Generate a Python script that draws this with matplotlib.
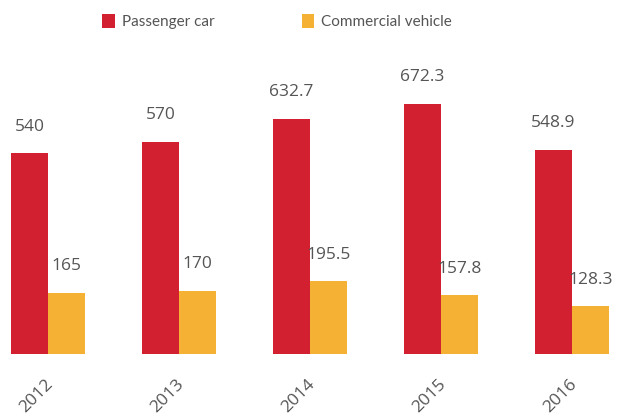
"""
Passenger car vs commercial vehicle, 2012-2016
"""
import numpy as np
import matplotlib
matplotlib.use('Agg')
import matplotlib.pyplot as plt

plt.rcParams['font.family'] = ['Open Sans', 'DejaVu Sans']

# data
years = ['2012', '2013', '2014', '2015', '2016']
passenger = [540, 570, 632.7, 672.3, 548.9]
commercial = [165, 170, 195.5, 157.8, 128.3]

red = '#d22030'
yellow = '#f5b133'
txt = '#555555'

fig = plt.figure(figsize=(6.3, 4.18), dpi=100)
ax = fig.add_axes([0, 64/418, 1, 294/418])

x = np.arange(len(years))
w = 0.282
b1 = ax.bar(x - w/2, passenger, w, color=red, label='Passenger car')
b2 = ax.bar(x + w/2, commercial, w, color=yellow, label='Commercial vehicle')

for bars, vals in ((b1, passenger), (b2, commercial)):
    for r, v in zip(bars, vals):
        lab = ('%g' % v)
        ax.annotate(lab, (r.get_x() + r.get_width()/2, v), xytext=(0, 19),
                    textcoords='offset points', ha='center', va='center',
                    fontsize=12.5, color=txt)

ax.set_xlim(-48/131, 582/131)
ax.set_ylim(0, 790)

ax.set_xticks(x - 0.02)
ax.set_xticklabels(years, rotation=45, ha='right', rotation_mode='anchor',
                   fontsize=12.5, color=txt)
ax.tick_params(axis='x', length=0, pad=16)
ax.set_yticks([])
for s in ax.spines.values():
    s.set_visible(False)

fig.legend(loc='center', bbox_to_anchor=(0.44, 0.949), ncol=2, frameon=False,
           prop={'family': 'Lato', 'size': 11}, handlelength=0.8,
           handleheight=1.1, handletextpad=0.46, columnspacing=5.75,
           labelcolor=txt)

fig.savefig('out.png', dpi=100)
